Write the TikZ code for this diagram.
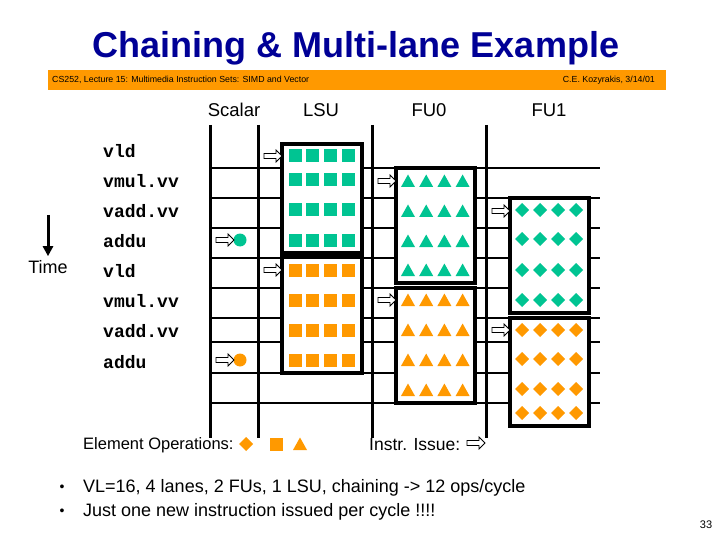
\documentclass[tikz,border=0pt]{standalone}
\usepackage{fontspec}
\setmainfont{Liberation Sans}
\newfontfamily\instrfont{Liberation Mono}
\usetikzlibrary{arrows.meta}
\definecolor{titleblue}{RGB}{0,0,150}
\definecolor{opgreen}{RGB}{0,196,146}
\definecolor{oporange}{RGB}{255,153,0}
\tikzset{
    header/.style={font=\fontsize{18.5}{20}\selectfont, inner sep=0pt},
    instr/.style={font=\instrfont\bfseries\fontsize{18}{20}\selectfont, anchor=west, inner sep=0pt},
    plain/.style={font=\fontsize{16.5}{18}\selectfont, anchor=west, inner sep=0pt},
    footer/.style={inner sep=0pt, font=\fontsize{8.8}{10}\selectfont},
    lane/.style={line width=3pt},
    cycleline/.style={line width=1.2pt},
    unitbox/.style={line width=4pt, fill=white},
    issue/.pic={\draw[line width=0.8pt, fill=white]
        (-9,-2.5) -- (3,-2.5) -- (3,-6) -- (9,0) -- (3,6) -- (3,2.5) -- (-9,2.5) -- cycle;},
    sqop/.pic={\fill[pic actions] (-6.5,-6.5) rectangle (6.5,6.5);},
    triop/.pic={\fill[pic actions] (0,-6.5) -- (7,6) -- (-7,6) -- cycle;},
    diaop/.pic={\fill[pic actions] (0,-7) -- (7,0) -- (0,7) -- (-7,0) -- cycle;},
    timearrow/.style={line width=3pt, -{Triangle[length=10pt,width=10pt]}}
}

\begin{document}
\begin{tikzpicture}[x=1pt, y=-1pt]
\useasboundingbox (0,0) rectangle (720,540);

% title and bar
\node (title) at (356,48) [font=\bfseries\fontsize{36}{40}\selectfont, text=titleblue] {Chaining \& Multi-lane Example};
\fill[oporange] (48,70) rectangle (666,90);
\node (course) at (52,80) [footer, anchor=west]
{CS252, Lecture 15: Multimedia Instruction Sets: SIMD and Vector};
\node (author) at (655,80) [footer, anchor=east]
{C.E. Kozyrakis, 3/14/01};

% column headers
\node (scalar) at (234,110) [header] {Scalar};
\node (lsu) at (321,110) [header] {LSU};
\node (fu0) at (429,110) [header] {FU0};
\node (fu1) at (549,110) [header] {FU1};

% instructions
\node (i1) at (103,151) [instr] {vld};
\node (i2) at (103,181) [instr] {vmul.vv};
\node (i3) at (103,211) [instr] {vadd.vv};
\node (i4) at (103,241) [instr] {addu};
\node (i5) at (103,271) [instr] {vld};
\node (i6) at (103,301) [instr] {vmul.vv};
\node (i7) at (103,331) [instr] {vadd.vv};
\node (i8) at (103,362) [instr] {addu};

% time
\coordinate (timetop) at (48,215);
\node (time) at (48,267) [font=\fontsize{18}{20}\selectfont, inner sep=0pt] {Time};
\draw[timearrow] (timetop) -- ([yshift=4pt]time.north);

% grid
\foreach \y in {168,198,228,258,288,318,342,373,403}
    \draw[cycleline] (210,\y) -- (600,\y);
\foreach \x in {210,258,372,486}
    \draw[lane] (\x,125) -- (\x,438);

% unit boxes
\draw[unitbox] (282,144) rectangle (362,253);
\draw[unitbox] (282,257) rectangle (362,373);
\draw[unitbox] (396,168) rectangle (475,283);
\draw[unitbox] (396,288) rectangle (475,403);
\draw[unitbox] (510,198) rectangle (589,313);
\draw[unitbox] (510,318) rectangle (589,426);

% element operations
\foreach \y in {156,180,210,240}
    \foreach \k in {0,...,3} \pic[fill=opgreen] at ({295+17.8*\k},\y) {sqop};
\foreach \y in {270,300,330,360}
    \foreach \k in {0,...,3} \pic[fill=oporange] at ({295+17.8*\k},\y) {sqop};
\foreach \y in {181,211,241,270}
    \foreach \k in {0,...,3} \pic[fill=opgreen] at ({408+18.2*\k},\y) {triop};
\foreach \y in {300,330,360,390}
    \foreach \k in {0,...,3} \pic[fill=oporange] at ({408+18.2*\k},\y) {triop};
\foreach \y in {210,239,270,300}
    \foreach \k in {0,...,3} \pic[fill=opgreen] at ({522+18*\k},\y) {diaop};
\foreach \y in {330,359,389,413}
    \foreach \k in {0,...,3} \pic[fill=oporange] at ({522+18*\k},\y) {diaop};
\fill[opgreen] (240,240) circle (6.5);
\fill[oporange] (240,360) circle (6.5);

% issue marks
\pic at (273,156) {issue};
\pic at (387,181) {issue};
\pic at (501,211) {issue};
\pic at (225,240) {issue};
\pic at (273,270) {issue};
\pic at (387,300) {issue};
\pic at (501,330) {issue};
\pic at (225,360) {issue};

% legend
\node (elemops) at (83,445) [plain] {Element Operations:};
\pic[fill=oporange] at (246,444) {diaop};
\pic[fill=oporange] at (276,444) {sqop};
\pic[fill=oporange] at (300,444) {triop};
\node (instrissue) at (369,445) [plain, font=\fontsize{17.5}{19}\selectfont] {Instr. Issue:};
\pic at (476,443) {issue};

% notes
\node (b1) at (62,488) [font=\fontsize{14}{16}\selectfont, inner sep=0pt] {\textbullet};
\node (b2) at (62,512) [font=\fontsize{14}{16}\selectfont, inner sep=0pt] {\textbullet};
\node (note1) at (83,488) [plain, font=\fontsize{18}{20}\selectfont]
{VL=16, 4 lanes, 2 FUs, 1 LSU, chaining -> 12 ops/cycle};
\node (note2) at (83,512) [plain, font=\fontsize{18}{20}\selectfont]
{Just one new instruction issued per cycle !!!!};
\node (page) at (706,525) [font=\fontsize{11}{12}\selectfont, inner sep=0pt] {33};

\end{tikzpicture}
\end{document}
